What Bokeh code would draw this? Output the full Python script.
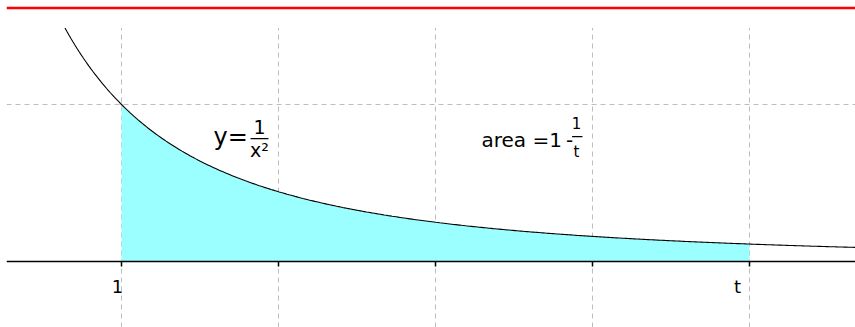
import numpy as np
from bokeh.plotting import figure
from bokeh.models import Range1d, LinearAxis, FixedTicker, Span, Label, ColumnDataSource
from bokeh.core.properties import value
from bokeh.embed import file_html
from bokeh.resources import INLINE

# ---- data ----
x_ticks = [1, 1.5, 2, 2.5, 3]          # dashed vertical grid / tick positions
tick_label_x = [1, 3]                   # labelled ticks
tick_labels = ["1", "t"]
tick_label_dx = [-4, -12]               # label nudges (px)
h_grid_y = [1]                          # horizontal dashed grid
area_start = 1                          # lower limit of shaded area
t_value = 3                             # upper limit t
curve_x_start = 0.82                    # curve sampled range
curve_x_end = 3.34
top_line_y = 1.615                      # red line

# curve y = 1/x^2 (the function named on the chart)
xs = np.linspace(curve_x_start, curve_x_end, 400)
ys = 1.0 / xs ** 2
xa = np.linspace(area_start, t_value, 300)
ya = 1.0 / xa ** 2
grid_top = 1.0 / curve_x_start ** 2

FONT = value("DejaVu Sans")
Y_MIN, Y_MAX = -0.42038, 1.63057
X_MIN, X_MAX = 0.63376, 3.33758

p = figure(width=855, height=327, output_backend="svg", toolbar_location=None,
           x_range=Range1d(X_MIN, X_MAX), y_range=Range1d(Y_MIN, Y_MAX),
           x_axis_type=None, y_axis_type=None,
           min_border_left=6, min_border_top=5, min_border_right=0, min_border_bottom=0,
           outline_line_color=None, background_fill_color="white",
           border_fill_color="white")

# grid
p.segment(x0=x_ticks, y0=[Y_MIN] * len(x_ticks), x1=x_ticks, y1=[grid_top] * len(x_ticks),
          line_color="#bdbdbd", line_width=1, line_dash="5 4")
for gy in h_grid_y:
    p.add_layout(Span(location=gy, dimension="width", line_color="#bdbdbd",
                      line_width=1, line_dash="5 4"))

# red top line
p.add_layout(Span(location=top_line_y, dimension="width", line_color="red", line_width=2.5))

# shaded area and curve
p.varea(x=xa, y1=np.zeros_like(xa), y2=ya, fill_color="#9bffff", fill_alpha=1.0)
p.line(xs, ys, line_color="black", line_width=1.1)

# x axis at y = 0
ax = LinearAxis(fixed_location=0, ticker=FixedTicker(ticks=x_ticks),
                major_label_overrides={v: "" for v in x_ticks},
                major_tick_out=5, major_tick_in=0, minor_tick_out=0, minor_tick_in=0,
                axis_line_color="black", axis_line_width=1.5,
                major_tick_line_color="black", major_tick_line_width=1.5)
p.add_layout(ax, "below")

# tick labels
src = ColumnDataSource(dict(x=tick_label_x, y=[0] * len(tick_label_x), text=tick_labels,
                            dx=tick_label_dx))
p.text(x="x", y="y", text="text", x_offset="dx", y_offset=25, source=src,
       text_font=FONT, text_font_size="18px", text_align="center",
       text_baseline="alphabetic", text_color="black")

def lab(x, y, text, size):
    return Label(x=x, y=y, text=text, text_font="DejaVu Sans", text_font_size=size,
                 text_align="center", text_baseline="alphabetic", text_color="black")

# equation  y = 1/x^2
yeq = lab(1.293, 0.796, "y=", "24px")
yeq.text_align = "left"
p.add_layout(yeq)
p.add_layout(lab(1.4395, 0.856, "1", "19px"))
p.add_layout(lab(1.4395, 0.708, "x²", "19px"))
# equation  area = 1 - 1/t
aeq = lab(2.1465, 0.777, "area =1\u2009-", "20px")
aeq.text_align = "left"
p.add_layout(aeq)
p.add_layout(lab(2.449, 0.879, "1", "15px"))
p.add_layout(lab(2.449, 0.695, "t", "15px"))
# fraction bars
p.segment(x0=[1.411, 2.435], y0=[0.783, 0.796], x1=[1.468, 2.468], y1=[0.783, 0.796],
          line_color="black", line_width=1.2)

open("out.html", "w").write(file_html(p, INLINE))
